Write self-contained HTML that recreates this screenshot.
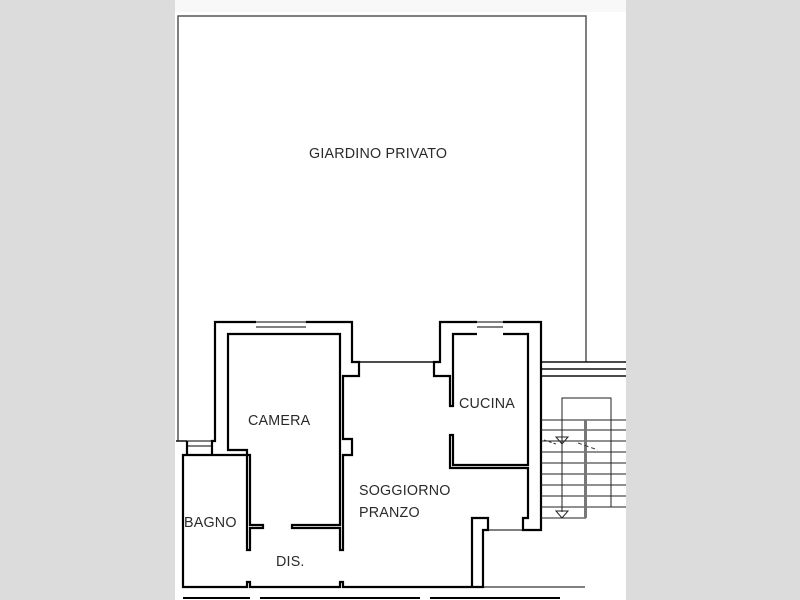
<!DOCTYPE html>
<html><head><style>
body{margin:0;width:800px;height:600px;background:#dcdcdc;overflow:hidden}
svg{position:absolute;left:0;top:0}
text{font-family:"Liberation Sans",sans-serif;font-size:14.3px;fill:#2a2a2a;letter-spacing:0.2px}
</style></head><body>
<svg width="800" height="600" viewBox="0 0 800 600">
<rect x="175" y="0" width="451" height="600" fill="#fff"/>
<rect x="175" y="0" width="451" height="12" fill="#f8f8f8"/>
<g fill="none" stroke="#111" stroke-width="1.5">
<polyline points="178,441 178,16 586,16 586,362" stroke="#555"/>
<line x1="541" y1="362" x2="626" y2="362"/>
<line x1="541" y1="369" x2="626" y2="369"/>
<line x1="541" y1="376" x2="626" y2="376"/>
<line x1="359" y1="362" x2="434" y2="362"/>
<line x1="176" y1="441" x2="187" y2="441"/>
</g>
<g fill="none" stroke="#000" stroke-width="2.2">
<polyline points="256,322 215,322 215,441 212,441 212,455"/>
<polyline points="306,322 352,322 352,362 359,362 359,376 343,376 343,439 352,439 352,455 343,455 343,550 340,550 340,528 292,528 292,525 340,525 340,376"/>
<polyline points="256,334 228,334 228,450 247,450 247,550 250,550 250,528 263,528 263,525 250,525 250,455 183,455 183,587 247,587 247,582 250,582 250,587 340,587 340,582 343,582 343,587 483,587 483,530 488,530 488,518 472,518 472,587"/>
<polyline points="306,334 340,334 340,376"/>
<line x1="256" y1="322" x2="306" y2="322" stroke-width="1"/>
<line x1="256" y1="327" x2="306" y2="327" stroke-width="1"/>
<line x1="256" y1="334" x2="306" y2="334"/>
<line x1="187" y1="441" x2="212" y2="441" stroke-width="1"/>
<line x1="187" y1="446" x2="212" y2="446" stroke-width="1"/>
<line x1="187" y1="441" x2="187" y2="455"/>
<polyline points="477,322 440,322 440,362 434,362 434,376 450,376 450,406 453,406 453,334 477,334"/>
<polyline points="503,322 541,322 541,530 523,530 523,518 528,518 528,468 450,468 450,435 453,435 453,465 528,465 528,334 503,334"/>
<line x1="477" y1="322" x2="503" y2="322" stroke-width="1"/>
<line x1="477" y1="327" x2="503" y2="327" stroke-width="1"/>
<line x1="488" y1="530" x2="523" y2="530" stroke-width="1"/>
</g>
<g fill="none" stroke="#222" stroke-width="1">
<line x1="541" y1="420" x2="626" y2="420"/><line x1="541" y1="430" x2="626" y2="430"/>
<line x1="541" y1="441" x2="626" y2="441"/><line x1="541" y1="452" x2="626" y2="452"/>
<line x1="541" y1="463" x2="626" y2="463"/><line x1="541" y1="474" x2="626" y2="474"/>
<line x1="541" y1="485" x2="626" y2="485"/><line x1="541" y1="496" x2="626" y2="496"/>
<line x1="541" y1="507" x2="626" y2="507"/><line x1="541" y1="518" x2="586" y2="518"/>
<polyline points="562,507 562,398 611,398 611,507"/>
<line x1="562" y1="507" x2="562" y2="512"/>
<polygon points="556,437 568,437 562,444"/>
<polygon points="556,511 568,511 562,518"/>
</g>
<rect x="584" y="420" width="3" height="98" fill="#777"/>
<line x1="578" y1="443" x2="598" y2="450" stroke="#333" stroke-dasharray="4,3"/>
<line x1="544" y1="440" x2="556" y2="444" stroke="#333" stroke-dasharray="3,2"/>
<g fill="none" stroke="#000" stroke-width="2">
<line x1="183" y1="598" x2="250" y2="598"/><line x1="260" y1="598" x2="420" y2="598"/>
<line x1="430" y1="598" x2="560" y2="598"/>
<line x1="483" y1="587" x2="585" y2="587" stroke-width="1"/>
</g>
<text x="309" y="158">GIARDINO PRIVATO</text>
<text x="248" y="425">CAMERA</text>
<text x="459" y="408">CUCINA</text>
<text x="359" y="495">SOGGIORNO</text>
<text x="359" y="517">PRANZO</text>
<text x="184" y="527">BAGNO</text>
<text x="276" y="566">DIS.</text>
</svg>
</body></html>
